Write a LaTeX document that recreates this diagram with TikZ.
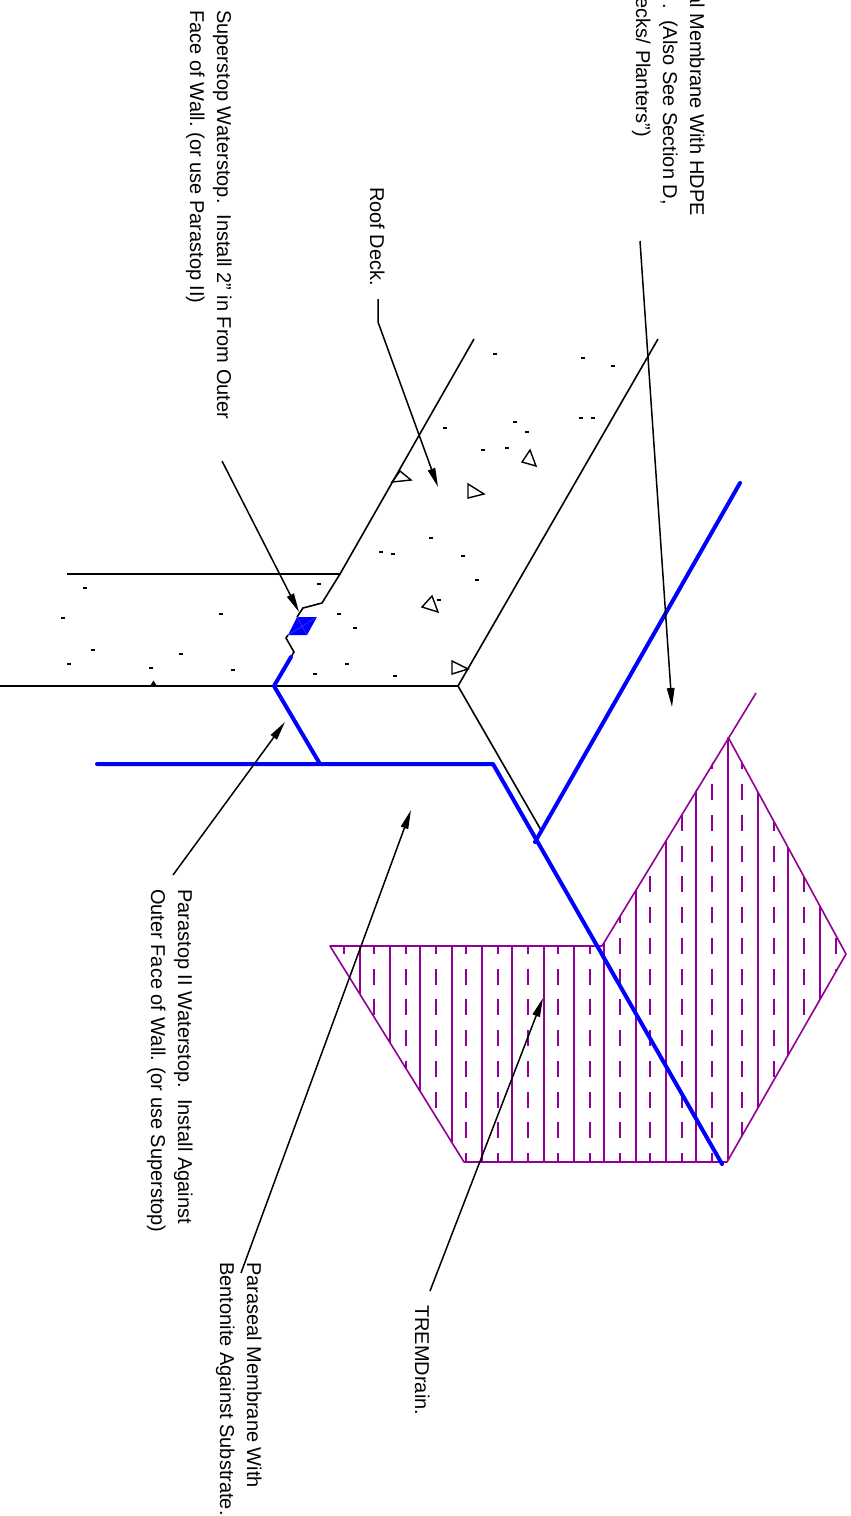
\documentclass[tikz,border=0pt]{standalone}
\usepackage{fontspec}
\setmainfont[Kerning=Off]{Liberation Sans}
\usetikzlibrary{arrows.meta}
\definecolor{hatchpurple}{RGB}{145,0,150}
\definecolor{memblue}{RGB}{0,0,255}
\frenchspacing
\tikzset{
  lbl/.style={inner sep=0pt,rotate=-90,anchor=base west,align=left,font=\fontsize{20}{27}\selectfont\frenchspacing},
  lblend/.style={inner sep=0pt,rotate=-90,anchor=base east,font=\fontsize{20}{27}\selectfont\frenchspacing},
  leader/.style={black,line width=1.5pt,-{Stealth[length=19pt,width=7.5pt,inset=0pt]}},
  concrete/.style={black,line width=1.6pt},
  membrane/.style={memblue,line width=4pt,line join=round,line cap=round},
  drainedge/.style={hatchpurple,line width=1.6pt,line join=round},
  solidhatch/.style={hatchpurple,line width=1.9pt},
  dashhatch/.style={hatchpurple,line width=1.9pt,dash pattern=on 16pt off 14.75pt},
  aggregate/.style={black,line width=1.4pt},
  speck/.style={black,line width=1.5pt},
}
\begin{document}
\begin{tikzpicture}[x=1pt,y=-1pt]
\clip (0,0) rectangle (851,1516);
\fill[white] (0,0) rectangle (851,1516);

% drainage mat hatching
\begin{scope}
  \clip (330,946) -- (602,946) -- (728,737) -- (846,954) -- (727,1162) -- (464,1162) -- cycle;
  \foreach \x in {360,390,420,452,482,512,544,574,604,636,666,696,728,758,788,820}
    \draw[solidhatch] (\x,730) -- (\x,1170);
  \foreach \x in {344,374,406,436,466,498,528,558,590,620,650,682,712,742,774,804,836}
    \draw[dashhatch] (\x,722.5) -- (\x,1170);
\end{scope}
\draw[drainedge] (756,693) -- (602,946) -- (330,946) -- (464,1162) -- (727,1162) -- (846,954) -- (728,737);

% concrete outline
\draw[concrete] (474,339) -- (340,574) -- (67,574);
\draw[concrete] (340,574) -- (322,603) -- (303,608) -- (297,617);
\draw[concrete] (288,635) -- (286,638) -- (294,652) -- (291,657);
\draw[concrete] (0,686) -- (458,686);
\draw[concrete] (658,339) -- (458,686) -- (541,830);

% aggregate
\foreach \a/\b/\c/\d/\e/\f in {400/471/411/480/392/482,468/484/484/494/468/498,530/450/536/466/522/462,432/596/438/612/422/607,452/661/468/669/452/674}
  \draw[aggregate] (\a,\b) -- (\c,\d) -- (\e,\f) -- cycle;
\fill[black] (150,686) -- (153.5,680.5) -- (157,686) -- cycle;
\foreach \x/\y in {495/354,583/358,613/366,445/428,515/422,527/432,581/418,593/418,483/450,507/448,431/538,381/552,393/554,463/556,477/580,439/600,319/584,339/614,355/628,347/664,315/674,85/588,63/618,221/614,93/650,69/664,181/654,151/668,233/670,395/676}
  \draw[speck] (\x-2,\y) -- (\x+2,\y);

% waterstop
\fill[memblue] (297,617) -- (317,617) -- (307,635) -- (288,635) -- cycle;
\draw[white!35!memblue,line width=0.3pt] (297,617) -- (307,635) (317,617) -- (288,635);

% membranes
\draw[membrane] (291,657) -- (274,686) -- (320,764);
\draw[membrane] (97,764) -- (493,764) -- (722,1164);
\draw[membrane] (535,842) -- (740,483);

% labels
\node[lbl] (superstop) at (190,10) {Superstop Waterstop.\ \ Install 2" in From Outer\\Face of Wall. (or use Parastop II)};
\node[lbl] (roofdeck) at (370,187) {Roof Deck.};
\node[lblend] (hdpeA) at (690,216) {al Membrane With HDPE};
\node[lblend] (hdpeB) at (663,205) {.\ \ (Also See Section D,};
\node[lblend] (hdpeC) at (636,137) {ecks/ Planters")};
\node[lbl] (parastop) at (151,889) {Parastop II Waterstop.\ \ Install Against\\Outer Face of Wall. (or use Superstop)};
\node[lbl] (paraseal) at (220,1262) {Paraseal Membrane With\\Bentonite Against Substrate.};
\node[lbl] (tremdrain) at (415,1305) {TREMDrain.};

% leaders
\coordinate (superA) at (222,461);
\coordinate (superT) at (299,612);
\coordinate (roofA) at (378,299);
\coordinate (roofB) at (378,322);
\coordinate (roofT) at (438,487);
\coordinate (hdpeL) at (640,241);
\coordinate (hdpeT) at (672,707);
\coordinate (paraA) at (173,875);
\coordinate (paraT) at (285,722);
\coordinate (sealA) at (241,1273);
\coordinate (sealT) at (411,810);
\coordinate (tremA) at (430,1291);
\coordinate (tremT) at (543,998);
\draw[leader] (superA) -- (superT);
\draw[leader] (roofA) -- (roofB) -- (roofT);
\draw[leader] (hdpeL) -- (hdpeT);
\draw[leader] (paraA) -- (paraT);
\draw[leader] (sealA) -- (sealT);
\draw[leader] (tremA) -- (tremT);
\end{tikzpicture}
\end{document}
